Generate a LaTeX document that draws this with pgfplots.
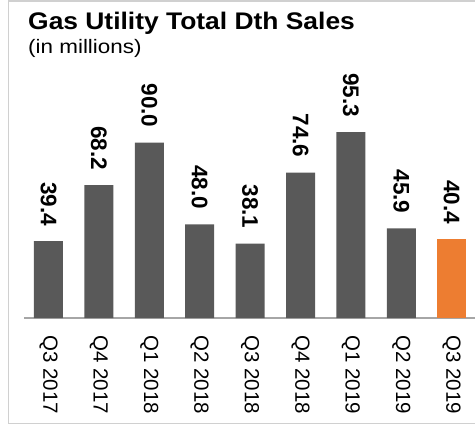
\documentclass[border=0pt]{standalone}
\usepackage{fontspec}
\setmainfont{Liberation Sans}
\usepackage{pgfplots}
\pgfplotsset{compat=1.18}
\definecolor{bargray}{HTML}{595959}
\definecolor{barorange}{HTML}{ED7D31}
\definecolor{axisgray}{HTML}{A6A6A6}
\definecolor{framegray}{HTML}{D0D0D0}
\begin{document}
\begin{tikzpicture}[x=1pt,y=1pt]
\useasboundingbox (0,0) rectangle (475,-425);
\draw[framegray, line width=1.3pt] (8.3,-1) rectangle (490,-423.3);
\node[anchor=base west, inner sep=0pt, xscale=1.1, font=\fontsize{24}{26}\selectfont\bfseries] at (28,-29.5) {Gas Utility Total Dth Sales};
\node[anchor=base west, inner sep=0pt, xscale=1.15, font=\fontsize{19.5}{21}\selectfont] at (28,-54) {(in millions)};
\begin{axis}[
  at={(24pt,-318pt)}, anchor=south west,
  scale only axis, width=452.9pt, height=195pt,
  xmin=-0.486, xmax=8.5, ymin=0, ymax=100,
  ybar, bar width=29pt, bar shift=0pt,
  axis x line*=bottom, hide y axis,
  axis line style={draw=axisgray, line width=1.3pt, -},
  xtick={0,...,8},
  xticklabels={Q3 2017,Q4 2017,Q1 2018,Q2 2018,Q3 2018,Q4 2018,Q1 2019,Q2 2019,Q3 2019},
  major tick length=0pt,
  ytick=\empty,
  xticklabel style={rotate=-90, anchor=west, inner xsep=17pt, inner ysep=0pt, font=\fontsize{20.5}{24}\selectfont, text=black},
  clip=false,
  nodes near coords,
  every node near coord/.append style={rotate=-90, anchor=east, inner xsep=15pt, inner ysep=0pt, font=\fontsize{22.5}{27}\selectfont\bfseries, text=black},
  /pgf/number format/.cd, fixed, fixed zerofill, precision=1, assume math mode=true,
]
\addplot[fill=bargray, draw=none] coordinates {(0,39.4) (1,68.2) (2,90.0) (3,48.0) (4,38.1) (5,74.6) (6,95.3) (7,45.9)};
\addplot[fill=barorange, draw=none] coordinates {(8,40.4)};
\end{axis}
\end{tikzpicture}
\end{document}
